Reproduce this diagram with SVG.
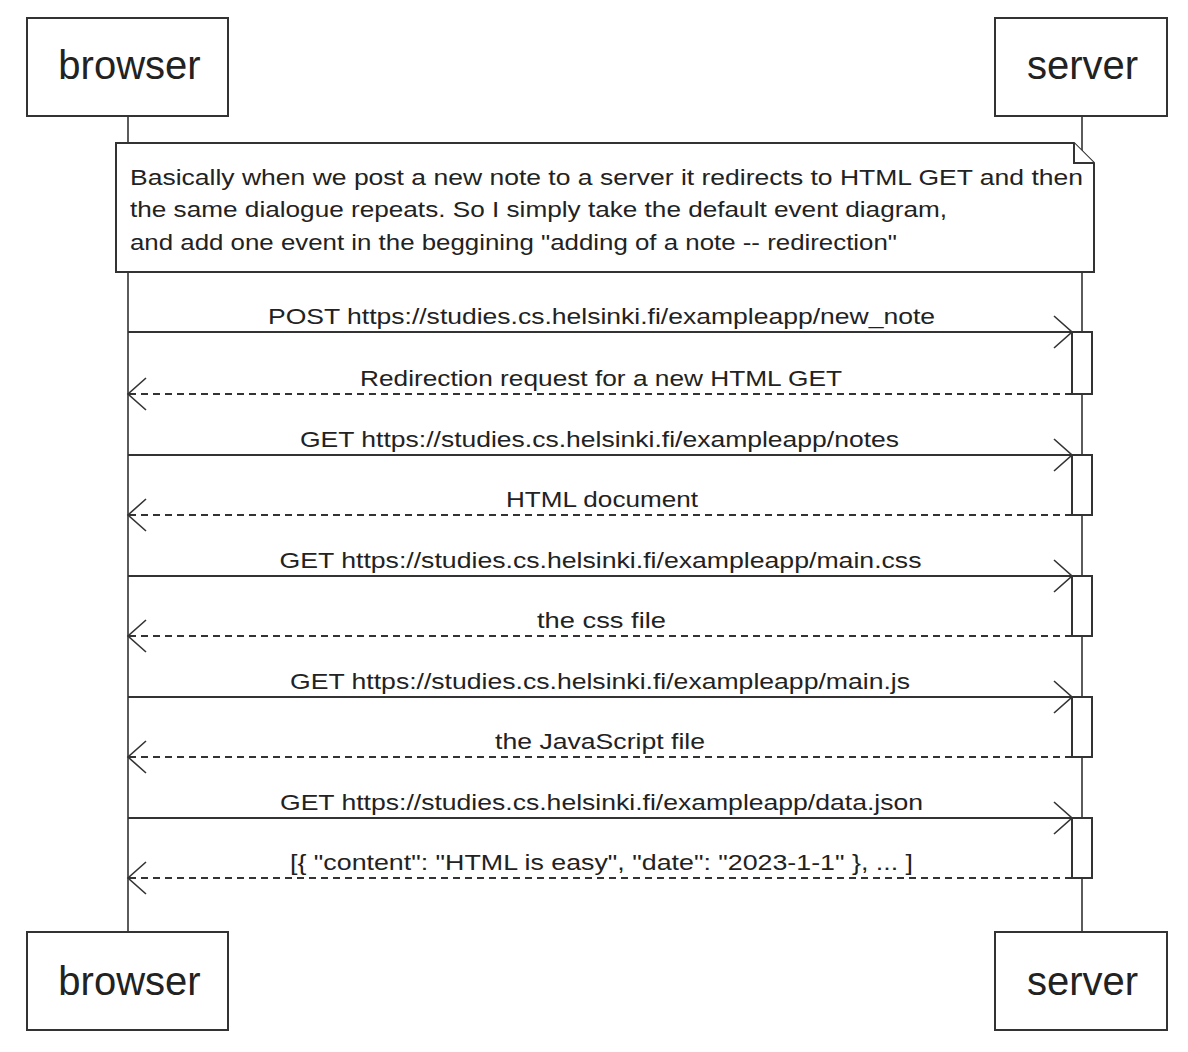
<svg xmlns="http://www.w3.org/2000/svg" width="1188" height="1052" viewBox="0 0 1188 1052">
<style>
  .actor rect { fill: #fff; stroke: #333; stroke-width: 2; }
  .actor text { font-family: "Liberation Sans", Arial, sans-serif; font-size: 40px; fill: #222; text-anchor: middle; }
  .life { stroke: #333; stroke-width: 1.6; }
  .act { fill: #fff; stroke: #333; stroke-width: 2; }
  .msg { stroke: #333; stroke-width: 2; fill: none; }
  .solid { marker-end: url(#arr); }
  .dash { stroke-dasharray: 7 5; marker-end: url(#arr); }
  .lbl { font-family: "Liberation Sans", Arial, sans-serif; font-size: 22px; fill: #222; text-anchor: middle; }
  .note path { fill: #fff; stroke: #333; stroke-width: 2; }
  .note text { font-family: "Liberation Sans", Arial, sans-serif; font-size: 22px; fill: #222; }
</style>
<defs>
  <marker id="arr" markerUnits="userSpaceOnUse" markerWidth="22" markerHeight="38" viewBox="0 0 22 38" refX="20" refY="19" orient="auto">
    <path d="M2,3 L20,19 L2,35" fill="none" stroke="#333" stroke-width="1.6"/>
  </marker>
</defs>
<rect width="1188" height="1052" fill="#fff"/>

<g id="lifelines">
  <line class="life" x1="128" y1="116" x2="128" y2="932"/>
  <line class="life" x1="1082" y1="116" x2="1082" y2="932"/>
</g>

<g id="browser-top" class="actor">
  <rect x="27" y="18" width="201" height="98"/>
  <text x="129.5" y="79">browser</text>
</g>
<g id="server-top" class="actor">
  <rect x="995" y="18" width="172" height="98"/>
  <text x="1082.5" y="79">server</text>
</g>

<g id="note" class="note">
  <path d="M116,143 H1074 L1094,163 V272 H116 Z"/>
  <path d="M1074,143 V163 H1094" fill="none"/>
  <text x="130" y="184.5" textLength="953" lengthAdjust="spacingAndGlyphs">Basically when we post a new note to a server it redirects to HTML GET and then</text>
  <text x="130" y="217" textLength="817" lengthAdjust="spacingAndGlyphs">the same dialogue repeats. So I simply take the default event diagram,</text>
  <text x="130" y="249.5" textLength="767" lengthAdjust="spacingAndGlyphs">and add one event in the beggining "adding of a note -- redirection"</text>
</g>

<g id="activations">
  <rect class="act" x="1072" y="332" width="20" height="62"/>
  <rect class="act" x="1072" y="455" width="20" height="60"/>
  <rect class="act" x="1072" y="576" width="20" height="60"/>
  <rect class="act" x="1072" y="697" width="20" height="60"/>
  <rect class="act" x="1072" y="818" width="20" height="60"/>
</g>

<g id="connectors">
  <line class="msg solid" x1="128" y1="332" x2="1072" y2="332"/>
  <line class="msg dash" x1="1072" y1="394" x2="128" y2="394"/>
  <line class="msg solid" x1="128" y1="455" x2="1072" y2="455"/>
  <line class="msg dash" x1="1072" y1="515" x2="128" y2="515"/>
  <line class="msg solid" x1="128" y1="576" x2="1072" y2="576"/>
  <line class="msg dash" x1="1072" y1="636" x2="128" y2="636"/>
  <line class="msg solid" x1="128" y1="697" x2="1072" y2="697"/>
  <line class="msg dash" x1="1072" y1="757" x2="128" y2="757"/>
  <line class="msg solid" x1="128" y1="818" x2="1072" y2="818"/>
  <line class="msg dash" x1="1072" y1="878" x2="128" y2="878"/>
</g>

<g id="labels">
  <text class="lbl" x="601.5" y="324" textLength="667" lengthAdjust="spacingAndGlyphs">POST https://studies.cs.helsinki.fi/exampleapp/new_note</text>
  <text class="lbl" x="601" y="386" textLength="482" lengthAdjust="spacingAndGlyphs">Redirection request for a new HTML GET</text>
  <text class="lbl" x="599.5" y="447" textLength="599" lengthAdjust="spacingAndGlyphs">GET https://studies.cs.helsinki.fi/exampleapp/notes</text>
  <text class="lbl" x="602" y="507" textLength="192" lengthAdjust="spacingAndGlyphs">HTML document</text>
  <text class="lbl" x="600.5" y="568" textLength="642" lengthAdjust="spacingAndGlyphs">GET https://studies.cs.helsinki.fi/exampleapp/main.css</text>
  <text class="lbl" x="601.5" y="628" textLength="129" lengthAdjust="spacingAndGlyphs">the css file</text>
  <text class="lbl" x="600" y="689" textLength="620" lengthAdjust="spacingAndGlyphs">GET https://studies.cs.helsinki.fi/exampleapp/main.js</text>
  <text class="lbl" x="600" y="749" textLength="210" lengthAdjust="spacingAndGlyphs">the JavaScript file</text>
  <text class="lbl" x="601.5" y="810" textLength="643" lengthAdjust="spacingAndGlyphs">GET https://studies.cs.helsinki.fi/exampleapp/data.json</text>
  <text class="lbl" x="601.5" y="870" textLength="623" lengthAdjust="spacingAndGlyphs">[{ "content": "HTML is easy", "date": "2023-1-1" }, ... ]</text>
</g>

<g id="browser-bottom" class="actor">
  <rect x="27" y="932" width="201" height="98"/>
  <text x="129.5" y="995">browser</text>
</g>
<g id="server-bottom" class="actor">
  <rect x="995" y="932" width="172" height="98"/>
  <text x="1082.5" y="995">server</text>
</g>
</svg>
